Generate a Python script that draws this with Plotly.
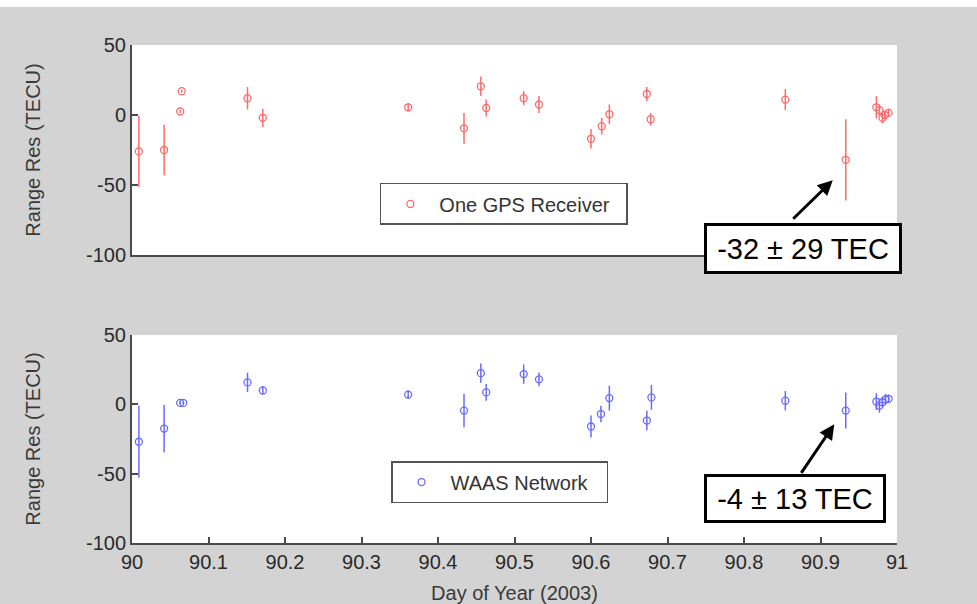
import plotly.graph_objects as go

# ---- data ----
gps_day = [90.009, 90.042, 90.063, 90.065, 90.151, 90.171, 90.361, 90.434, 90.456, 90.463,
           90.512, 90.532, 90.600, 90.614, 90.624, 90.673, 90.678, 90.854, 90.933,
           90.973, 90.977, 90.981, 90.984, 90.989]
gps_res = [-26, -25, 2.5, 17, 12, -2, 5.5, -9.5, 20.5, 5,
           12, 7.5, -17, -8, 0.5, 15, -3, 11, -32,
           5.5, 3.5, -2, 0, 1.5]
gps_err = [25.5, 18, 1, 1, 8, 6.5, 3, 11, 7, 6,
           5, 6, 7, 6, 7, 5, 4.5, 7.5, 29,
           8, 4, 4, 3, 3]

waas_day = [90.009, 90.042, 90.063, 90.067, 90.151, 90.171, 90.361, 90.434, 90.456, 90.463,
            90.512, 90.532, 90.600, 90.613, 90.624, 90.673, 90.679, 90.854, 90.933,
            90.973, 90.977, 90.981, 90.985, 90.989]
waas_res = [-27, -17.5, 1, 1, 15.8, 10, 7, -4.5, 22.5, 8.6,
            21.8, 18, -16, -7, 4.5, -11.7, 5, 2.6, -4.5,
            2, -1, 1.5, 3.5, 4]
waas_err = [26, 17, 1, 1, 7, 3, 3, 12, 7, 6,
            7, 5, 8, 6, 9, 7, 9, 7, 13,
            6, 5, 4, 4, 3]

yticks = [-100, -50, 0, 50]
xticks = [90, 90.1, 90.2, 90.3, 90.4, 90.5, 90.6, 90.7, 90.8, 90.9, 91]
xticklabels = ["90", "90.1", "90.2", "90.3", "90.4", "90.5", "90.6", "90.7", "90.8", "90.9", "91"]

gps_name = "One GPS Receiver"
waas_name = "WAAS Network"
gps_note = "-32 ± 29 TEC"
waas_note = "-4 ± 13 TEC"

RED = "#ff6a6a"
BLUE = "#6a6aff"
GRAY = "#d3d3d3"
AX = "#4a4a4a"
FONT = "Liberation Sans, Arial, sans-serif"

fig = go.Figure()
fig.add_trace(go.Scatter(
    x=gps_day, y=gps_res, mode="markers", name=gps_name,
    marker=dict(symbol="circle-open", size=7, color=RED, line=dict(width=1.3)),
    error_y=dict(type="data", array=gps_err, visible=True, color=RED, thickness=1.5, width=0),
    xaxis="x", yaxis="y", legend="legend"))
fig.add_trace(go.Scatter(
    x=waas_day, y=waas_res, mode="markers", name=waas_name,
    marker=dict(symbol="circle-open", size=7, color=BLUE, line=dict(width=1.3)),
    error_y=dict(type="data", array=waas_err, visible=True, color=BLUE, thickness=1.5, width=0),
    xaxis="x2", yaxis="y2", legend="legend2"))

axis_common = dict(showline=True, linecolor=AX, linewidth=2, showgrid=False, zeroline=False,
                   ticks="inside", ticklen=6, tickcolor=AX, tickwidth=1.5,
                   tickfont=dict(family=FONT, size=20, color="#2a2a2a"))

yax = dict(axis_common, range=[-100, 50], tickvals=yticks, ticktext=[str(v) for v in yticks],
           title=dict(text="Range Res (TECU)", font=dict(family=FONT, size=20, color="#3a3a3a"), standoff=40),
           automargin=False)

legend_common = dict(xanchor="left", yanchor="top", bgcolor="white", orientation="h",
                     bordercolor="#555555", borderwidth=1.5, itemwidth=48,
                     font=dict(family=FONT, size=20, color="#333333"))

fig.update_layout(
    width=977, height=604,
    margin=dict(l=132, r=80, t=45, b=61),
    paper_bgcolor=GRAY, plot_bgcolor="white",
    showlegend=True,
    xaxis=dict(axis_common, domain=[0, 1], range=[90, 91], anchor="y", showticklabels=False,
               ticks="", tickvals=xticks),
    yaxis=dict(yax, domain=[0.5783, 1], anchor="x"),
    xaxis2=dict(axis_common, domain=[0, 1], range=[90, 91], anchor="y2",
                tickvals=xticks, ticktext=xticklabels,
                title=dict(text="Day of Year (2003)", font=dict(family=FONT, size=20, color="#3a3a3a"), standoff=14),
                automargin=False),
    yaxis2=dict(yax, domain=[0, 0.4177], anchor="x2"),
    legend=dict(legend_common, x=0.324, y=0.723, entrywidth=182),
    legend2=dict(legend_common, x=0.3386, y=0.1646, entrywidth=151),
    shapes=[dict(type="rect", xref="paper", yref="paper", x0=-0.2, x1=1.2,
                 y0=1.0763, y1=1.2, fillcolor="white", line=dict(width=0), layer="below")],
)

# arrows (arrow-only annotations) and boxed labels
for xh, yh, ax, ay, xr, yr in [(90.916, -46.6, -41, 40, "x", "y"), (90.918, -14.4, -34, 50, "x2", "y2")]:
    fig.add_annotation(x=xh, y=yh, xref=xr, yref=yr, text="", showarrow=True,
                       ax=ax, ay=ay, arrowhead=2, arrowsize=1, arrowwidth=3, arrowcolor="black")

fig.add_annotation(x=0.877, y=0.5914, xref="paper", yref="paper", text=gps_note, showarrow=False,
                   xanchor="center", yanchor="middle",
                   font=dict(family=FONT, size=29, color="black"), bgcolor="white",
                   bordercolor="black", borderwidth=3, borderpad=0, width=192, height=45)
fig.add_annotation(x=0.8667, y=0.0894, xref="paper", yref="paper", text=waas_note, showarrow=False,
                   xanchor="center", yanchor="middle",
                   font=dict(family=FONT, size=29, color="black"), bgcolor="white",
                   bordercolor="black", borderwidth=3, borderpad=0, width=176, height=43)

fig.write_html("out.html")
